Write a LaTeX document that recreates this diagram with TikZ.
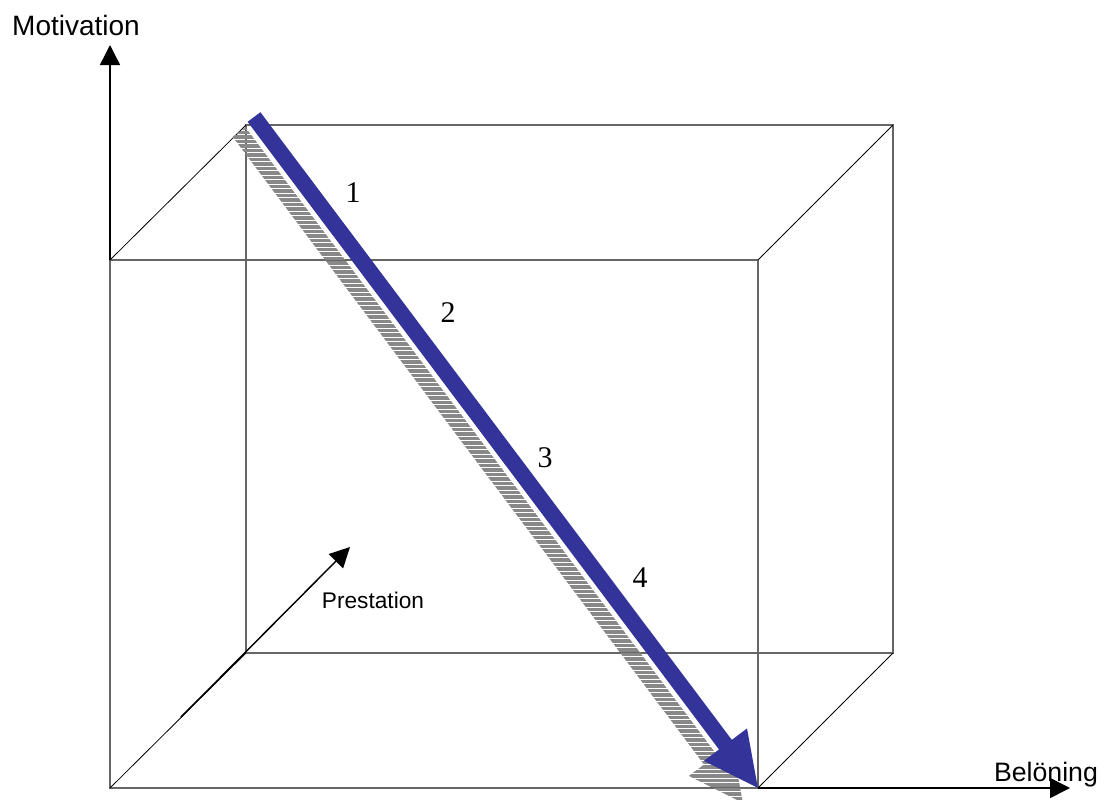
\documentclass[tikz,border=0pt]{standalone}
\usepackage{fontspec}
\setmainfont{Liberation Serif}
\newfontfamily\labelfont{Liberation Sans}
\usetikzlibrary{arrows.meta}
\definecolor{boxgray}{HTML}{666666}
\definecolor{hatchgray}{HTML}{888888}
\definecolor{pathblue}{HTML}{333399}
\tikzset{
  edge/.style={
    draw=boxgray,
    line width=0.8pt
  },
  depth/.style={
    draw=black,
    line width=0.6pt
  },
  axis/.style={
    -{Triangle[length=15pt,width=15pt]},
    draw=black,
    line width=1.1pt
  },
  axislabel/.style={
    font=\labelfont\fontsize{20}{24}\selectfont,
    inner sep=0pt
  },
  step number/.style={
    font=\fontsize{22.5}{26}\selectfont,
    inner sep=0pt
  },
  hatch/.style={
    draw=hatchgray,
    line width=2.3pt
  }
}

\begin{document}
\begin{tikzpicture}[x=0.75pt,y=-0.75pt]
  \useasboundingbox (0,0) rectangle (1105,800);

  % Corners of the box
  \coordinate (ftl) at (110,260);
  \coordinate (ftr) at (758,260);
  \coordinate (fbl) at (110,788);
  \coordinate (fbr) at (758,788);
  \coordinate (btl) at (246,125);
  \coordinate (btr) at (893,125);
  \coordinate (bbl) at (246,653);
  \coordinate (bbr) at (893,653);

  % Back and front faces
  \draw[edge] (btl) rectangle (bbr);
  \draw[edge] (ftl) rectangle (fbr);
  \draw[depth] (ftl) -- (btl);
  \draw[depth] (ftr) -- (btr);
  \draw[depth] (fbr) -- (bbr);
  \draw[depth] (fbl) -- (bbl);

  % Axes
  \coordinate (mtip) at (110,45);
  \coordinate (btip) at (1070,788);
  \coordinate (pstart) at (181,717);
  \coordinate (ptip) at (350,547);
  \draw[axis] (ftl) -- (mtip);
  \draw[axis] (fbr) -- (btip);
  \draw[axis] (pstart) -- (ptip);
  \node[axislabel, font=\labelfont\fontsize{21}{25}\selectfont] (motivation) at (76,25) {Motivation};
  \node[axislabel] (beloning) at (1046,775) {Belöning};
  \node[axislabel, font=\labelfont\fontsize{17}{20}\selectfont] (prestation) at (373,600) {Prestation};

  % Diagonal path arrow and its hatched shadow
  \begin{scope}[shift={(239,132)}, rotate=-53.09]
    \coordinate (s1) at (0,8);
    \coordinate (s2) at (785,8);
    \coordinate (s3) at (785,27);
    \coordinate (s4) at (839,0);
    \coordinate (s5) at (785,-27);
    \coordinate (s6) at (785,-8);
    \coordinate (s7) at (0,-8);
  \end{scope}
  \begin{scope}
    \clip (s1) -- (s2) -- (s3) -- (s4) -- (s5) -- (s6) -- (s7) -- cycle;
    \foreach \y in {110,114.5,...,810} {
      \draw[hatch] (220,\y) -- (780,\y);
    }
  \end{scope}

  \begin{scope}[shift={(254,117)}, rotate=-53.09]
    \coordinate (a1) at (0,8);
    \coordinate (a2) at (785,8);
    \coordinate (a3) at (785,27);
    \coordinate (a4) at (839,0);
    \coordinate (a5) at (785,-27);
    \coordinate (a6) at (785,-8);
    \coordinate (a7) at (0,-8);
  \end{scope}
  \fill[pathblue] (a1) -- (a2) -- (a3) -- (a4) -- (a5) -- (a6) -- (a7) -- cycle;

  % Step numbers along the path
  \node[step number] (n1) at (353,193) {1};
  \node[step number] (n2) at (448,313) {2};
  \node[step number] (n3) at (545,458) {3};
  \node[step number] (n4) at (640,578) {4};
\end{tikzpicture}
\end{document}
